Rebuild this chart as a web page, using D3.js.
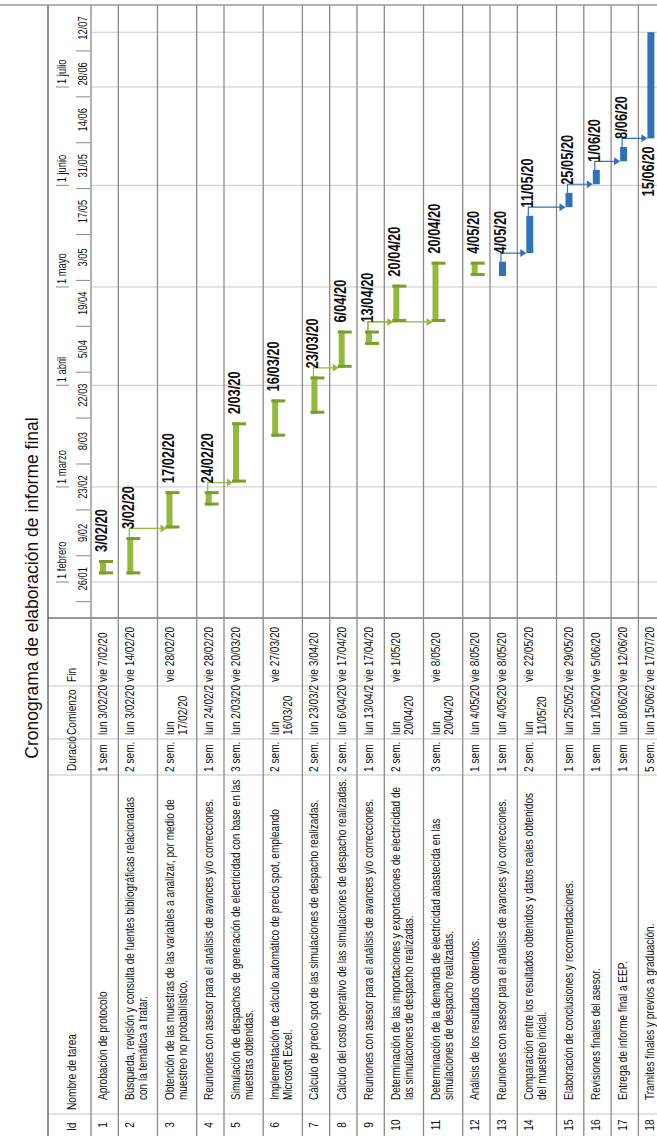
<!DOCTYPE html>
<html>
<head>
<meta charset="utf-8">
<script src="https://cdn.jsdelivr.net/npm/d3@7"></script>
<style>
  body { margin: 0; background: #fff; }
  svg text { font-family: "Liberation Sans", Arial, sans-serif; fill: #111; }
</style>
</head>
<body>
<svg id="chart" width="657" height="1136"></svg>
<script>
// ---- data ----
const taskIds = [1, 2, 3, 4, 5, 6, 7, 8, 9, 10, 11, 12, 13, 14, 15, 16, 17, 18];
const taskNames = [
  ["Aprobación de protocolo"],
  ["Búsqueda, revisión y consulta de fuentes bibliográficas relacionadas", "con la temática a tratar."],
  ["Obtención de las muestras de las variables a analizar, por medio de", "muestreo no probabilístico."],
  ["Reuniones con asesor para el análisis de avances y/o correcciones."],
  ["Simulación de despachos de generación de electricidad con base en las", "muestras obtenidas."],
  ["Implementación de cálculo automático de precio spot, empleando", "Microsoft Excel."],
  ["Cálculo de precio spot de las simulaciones de despacho realizadas."],
  ["Cálculo del costo operativo de las simulaciones de despacho realizadas."],
  ["Reuniones con asesor para el análisis de avances y/o correcciones."],
  ["Determinación de las importaciones y exportaciones de electricidad de", "las simulaciones de despacho realizadas."],
  ["Determinación de la demanda de electricidad abastecida en las", "simulaciones de despacho realizadas."],
  ["Análisis de los resultados obtenidos."],
  ["Reuniones con asesor para el análisis de avances y/o correcciones."],
  ["Comparación entre los resultados obtenidos y datos reales obtenidos", "del muestreo inicial."],
  ["Elaboración de conclusiones y recomendaciones."],
  ["Revisiones finales del asesor."],
  ["Entrega de informe final a EEP."],
  ["Tramites finales y previos a graduación."]
];
const durations = ["1 sem", "2 sem.", "2 sem.", "1 sem", "3 sem.", "2 sem.", "2 sem.", "2 sem.", "1 sem",
  "2 sem.", "3 sem.", "1 sem", "1 sem", "2 sem.", "1 sem", "1 sem", "1 sem", "5 sem."];
const startTexts = [
  ["lun 3/02/20"], ["lun 3/02/20"], ["lun", "17/02/20"], ["lun 24/02/2"], ["lun 2/03/20"], ["lun", "16/03/20"],
  ["lun 23/03/2"], ["lun 6/04/20"], ["lun 13/04/2"], ["lun", "20/04/20"], ["lun", "20/04/20"], ["lun 4/05/20"],
  ["lun 4/05/20"], ["lun", "11/05/20"], ["lun 25/05/2"], ["lun 1/06/20"], ["lun 8/06/20"], ["lun 15/06/2"]
];
const endTexts = ["vie 7/02/20", "vie 14/02/20", "vie 28/02/20", "vie 28/02/20", "vie 20/03/20", "vie 27/03/20",
  "vie 3/04/20", "vie 17/04/20", "vie 17/04/20", "vie 1/05/20", "vie 8/05/20", "vie 8/05/20",
  "vie 8/05/20", "vie 22/05/20", "vie 29/05/20", "vie 5/06/20", "vie 12/06/20", "vie 17/07/20"];
const startDates = ["2020-02-03", "2020-02-03", "2020-02-17", "2020-02-24", "2020-03-02", "2020-03-16",
  "2020-03-23", "2020-04-06", "2020-04-13", "2020-04-20", "2020-04-20", "2020-05-04",
  "2020-05-04", "2020-05-11", "2020-05-25", "2020-06-01", "2020-06-08", "2020-06-15"];
const endDates = ["2020-02-07", "2020-02-14", "2020-02-28", "2020-02-28", "2020-03-20", "2020-03-27",
  "2020-04-03", "2020-04-17", "2020-04-17", "2020-05-01", "2020-05-08", "2020-05-08",
  "2020-05-08", "2020-05-22", "2020-05-29", "2020-06-05", "2020-06-12", "2020-07-17"];
const barLabels = ["3/02/20", "3/02/20", "17/02/20", "24/02/20", "2/03/20", "16/03/20", "23/03/20", "6/04/20",
  "13/04/20", "20/04/20", "20/04/20", "4/05/20", "4/05/20", "11/05/20", "25/05/20", "1/06/20", "8/06/20", "15/06/20"];
const critical = [false, false, false, false, false, false, false, false, false, false, false, false,
  true, true, true, true, true, true];
const links = [[2, 3], [4, 5], [7, 8], [9, 10], [9, 11], [13, 14], [14, 15], [15, 16], [16, 17], [17, 18]];

const monthDates = ["2020-02-01", "2020-03-01", "2020-04-01", "2020-05-01", "2020-06-01", "2020-07-01"];
const monthLabels = ["1 febrero", "1 marzo", "1 abril", "1 mayo", "1 junio", "1 julio"];
const weekDates = ["2020-01-26", "2020-02-09", "2020-02-23", "2020-03-08", "2020-03-22", "2020-04-05", "2020-04-19",
  "2020-05-03", "2020-05-17", "2020-05-31", "2020-06-14", "2020-06-28", "2020-07-12"];
const weekLabels = ["26/01", "9/02", "23/02", "8/03", "22/03", "5/04", "19/04", "3/05", "17/05", "31/05", "14/06", "28/06", "12/07"];

const title = "Cronograma de elaboración de informe final";
const headers = ["Id", "Nombre de tarea", "Duració", "Comienzo", "Fin"];

// ---- layout (chart is built landscape, then turned -90deg) ----
const W = 1136, H = 657;
const headTop = 48, headBottom = 91;
const cols = [0, 22, 361, 397, 450, 518];   // column edges
const ganttEnd = 1131;
const SX = 0.78;                              // condensed look
const green = "#93ba3c", greenDark = "#7a9e2c", blue = "#2f72b8";

const parse = d3.timeParse("%Y-%m-%d");

const x = d3.scaleTime()
  .domain([parse("2020-02-01"), parse("2020-07-01")])
  .range([554, 1049]);

// row positions
const rowH = taskNames.map(d => d.length > 1 ? 39.2 : 27.3);
const rowTop = [];
let acc = headBottom;
rowH.forEach(h => { rowTop.push(acc); acc += h; });

const tasks = taskIds.map((id, i) => ({
  id,
  start: d3.timeHour.offset(parse(startDates[i]), 8),
  end: d3.timeHour.offset(parse(endDates[i]), 17),
  top: rowTop[i],
  h: rowH[i],
  crit: critical[i],
  label: barLabels[i]
}));

const svg = d3.select("#chart");
const g = svg.append("g").attr("transform", `translate(0,${W}) rotate(-90)`);

// narrow text helper
function ntext(sel, px, py, s, size, sx = SX) {
  return sel.append("text")
    .attr("transform", `translate(${px},${py}) scale(${sx},1)`)
    .attr("font-size", size)
    .text(s);
}

g.append("clipPath").attr("id", "ganttClip")
  .append("rect").attr("x", cols[5]).attr("y", 0).attr("width", ganttEnd - cols[5]).attr("height", H);

// ---- title ----
g.append("text")
  .attr("x", 548).attr("y", 38)
  .attr("text-anchor", "middle")
  .attr("font-size", 17.5)
  .text(title);

// ---- gridlines ----
g.append("g").selectAll("line")
  .data(monthDates)
  .join("line")
  .attr("x1", d => x(parse(d))).attr("x2", d => x(parse(d)))
  .attr("y1", headBottom).attr("y2", H)
  .attr("stroke", "#c9c9c9").attr("stroke-width", 1);

const lastEnd = d3.max(tasks, d => d.end);
g.append("line")
  .attr("x1", x(lastEnd)).attr("x2", x(lastEnd))
  .attr("y1", headBottom).attr("y2", H)
  .attr("stroke", "#c9c9c9");

g.append("g").selectAll("line")
  .data(cols.slice(1))
  .join("line")
  .attr("x1", d => d).attr("x2", d => d)
  .attr("y1", headTop).attr("y2", H)
  .attr("stroke", (d, i) => i === 4 ? "#777" : "#c4c4c4")
  .attr("stroke-width", (d, i) => i === 4 ? 1.3 : 1);

const rowLines = [headBottom].concat(tasks.map(t => t.top + t.h));
g.append("g").selectAll("line")
  .data(rowLines)
  .join("line")
  .attr("x1", 0).attr("x2", ganttEnd)
  .attr("y1", d => d).attr("y2", d => d)
  .attr("stroke", "#8a8a8a").attr("stroke-width", 1.3);

g.append("line").attr("x1", 0).attr("x2", ganttEnd).attr("y1", headTop).attr("y2", headTop)
  .attr("stroke", "#555").attr("stroke-width", 1.3);
g.append("line").attr("x1", ganttEnd).attr("x2", ganttEnd).attr("y1", 0).attr("y2", H)
  .attr("stroke", "#999").attr("stroke-width", 1.3);

// ---- header ----
const head = g.append("g");
headers.forEach((h, i) => ntext(head, i === 0 ? 5 : cols[i] + 4, 76, h, 13));

// timescale: months (label after the tick)
const months = g.append("g");
months.selectAll("line")
  .data(monthDates)
  .join("line")
  .attr("x1", d => x(parse(d))).attr("x2", d => x(parse(d)))
  .attr("y1", 56).attr("y2", 69)
  .attr("stroke", "#888");
monthLabels.forEach((m, i) => ntext(months, x(parse(monthDates[i])) + 3, 66, m, 12));

// timescale: two-week periods (label centred in the period)
const weeks = g.append("g");
weeks.selectAll("line")
  .data(weekDates)
  .join("line")
  .attr("x1", d => x(parse(d))).attr("x2", d => x(parse(d)))
  .attr("y1", 76).attr("y2", 90)
  .attr("stroke", "#888");
weekLabels.forEach((w, i) => ntext(weeks, x(d3.timeDay.offset(parse(weekDates[i]), 7)), 87, w, 12)
  .attr("text-anchor", "middle"));

// ---- table body ----
const body = g.append("g");
tasks.forEach((t, i) => {
  const base = t.top + 16;
  ntext(body, 11, base, t.id, 13).attr("text-anchor", "middle");
  taskNames[i].forEach((line, k) => ntext(body, cols[1] + 14, base + 13 * k, line, 13, 0.77));
  ntext(body, cols[2] + 3, base, durations[i], 13);
  startTexts[i].forEach((line, k) => ntext(body, cols[3] + 4, base + 13 * k, line, 13));
  ntext(body, cols[4] + 4, base, endTexts[i], 13);
});

// ---- gantt bars ----
const gantt = g.append("g").attr("clip-path", "url(#ganttClip)");

links.forEach(([a, b]) => {
  const p = tasks[a - 1], s = tasks[b - 1];
  const xe = x(p.end), xs = x(s.start);
  const y0 = p.top + 11, y1 = s.top + 9;
  const col = p.crit ? blue : green;
  gantt.append("path")
    .attr("d", `M${xe},${y0}H${xs}V${y1 - 5}`)
    .attr("fill", "none").attr("stroke", col).attr("stroke-width", 1.2);
  gantt.append("path")
    .attr("d", `M${xs - 4},${y1 - 6}L${xs + 4},${y1 - 6}L${xs},${y1}Z`)
    .attr("fill", col);
});

tasks.forEach(t => {
  const x0 = x(t.start), x1 = x(t.end);
  if (t.crit) {
    gantt.append("rect")
      .attr("x", x0).attr("y", t.top + 9)
      .attr("width", x1 - x0).attr("height", 7)
      .attr("fill", blue);
  } else {
    gantt.append("rect")
      .attr("x", x0).attr("y", t.top + 9)
      .attr("width", x1 - x0).attr("height", 6)
      .attr("fill", green);
    [x0, x1 - 3].forEach(cx => {
      gantt.append("rect")
        .attr("x", cx).attr("y", t.top + 8)
        .attr("width", 3).attr("height", 14)
        .attr("fill", greenDark);
    });
  }
});

// start-date labels, flipped left when they would run off the chart
tasks.forEach(t => {
  const lbl = gantt.append("text")
    .attr("font-size", 16.5).attr("font-weight", "bold")
    .attr("transform", `translate(${x(t.end) + 8},${t.top + 16}) scale(0.78,1)`)
    .text(t.label);
  const w = lbl.node().getComputedTextLength() * 0.78;
  if (x(t.end) + 8 + w > ganttEnd) {
    lbl.attr("transform", `translate(${x(t.start) - 8},${t.top + 16}) scale(0.78,1)`)
      .attr("text-anchor", "end");
  }
});
</script>
</body>
</html>
